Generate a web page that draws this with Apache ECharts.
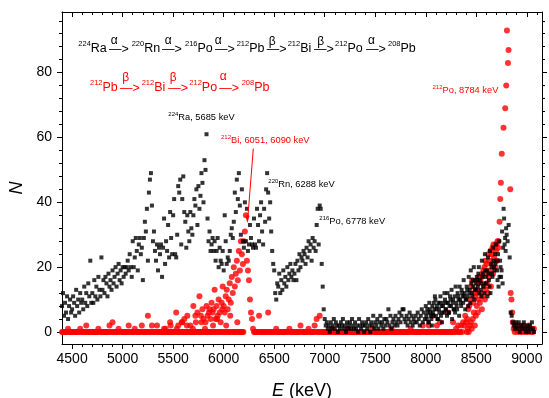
<!DOCTYPE html>
<html><head><meta charset="utf-8">
<script src="https://cdn.jsdelivr.net/npm/echarts@6/dist/echarts.min.js"></script>
<style>html,body{margin:0;padding:0;background:#fff}#c{width:549px;height:398px}</style>
</head><body><div id="c"></div>
<script>
// channel energies (keV)
const channelE = [
4400,4410,4420,4430,4440,4450,4460,4470,4480,4490,
4500,4510,4520,4530,4540,4550,4560,4570,4580,4590,
4600,4610,4620,4630,4640,4650,4660,4670,4680,4690,
4700,4710,4720,4730,4740,4750,4760,4770,4780,4790,
4800,4810,4820,4830,4840,4850,4860,4870,4880,4890,
4900,4910,4920,4930,4940,4950,4960,4970,4980,4990,
5000,5010,5020,5030,5040,5050,5060,5070,5080,5090,
5100,5110,5120,5130,5140,5150,5160,5170,5180,5190,
5200,5210,5220,5230,5240,5250,5260,5270,5280,5290,
5300,5310,5320,5330,5340,5350,5360,5370,5380,5390,
5400,5410,5420,5430,5440,5450,5460,5470,5480,5490,
5500,5510,5520,5530,5540,5550,5560,5570,5580,5590,
5600,5610,5620,5630,5640,5650,5660,5670,5680,5690,
5700,5710,5720,5730,5740,5750,5760,5770,5780,5790,
5800,5810,5820,5830,5840,5850,5860,5870,5880,5890,
5900,5910,5920,5930,5940,5950,5960,5970,5980,5990,
6000,6010,6020,6030,6040,6050,6060,6070,6080,6090,
6100,6110,6120,6130,6140,6150,6160,6170,6180,6190,
6200,6210,6220,6230,6240,6250,6260,6270,6280,6290,
6300,6310,6320,6330,6340,6350,6360,6370,6380,6390,
6400,6410,6420,6430,6440,6450,6460,6470,6480,6490,
6500,6510,6520,6530,6540,6550,6560,6570,6580,6590,
6600,6610,6620,6630,6640,6650,6660,6670,6680,6690,
6700,6710,6720,6730,6740,6750,6760,6770,6780,6790,
6800,6810,6820,6830,6840,6850,6860,6870,6880,6890,
6900,6910,6920,6930,6940,6950,6960,6970,6980,6990,
7000,7010,7020,7030,7040,7050,7060,7070,7080,7090,
7100,7110,7120,7130,7140,7150,7160,7170,7180,7190,
7200,7210,7220,7230,7240,7250,7260,7270,7280,7290,
7300,7310,7320,7330,7340,7350,7360,7370,7380,7390,
7400,7410,7420,7430,7440,7450,7460,7470,7480,7490,
7500,7510,7520,7530,7540,7550,7560,7570,7580,7590,
7600,7610,7620,7630,7640,7650,7660,7670,7680,7690,
7700,7710,7720,7730,7740,7750,7760,7770,7780,7790,
7800,7810,7820,7830,7840,7850,7860,7870,7880,7890,
7900,7910,7920,7930,7940,7950,7960,7970,7980,7990,
8000,8010,8020,8030,8040,8050,8060,8070,8080,8090,
8100,8110,8120,8130,8140,8150,8160,8170,8180,8190,
8200,8210,8220,8230,8240,8250,8260,8270,8280,8290,
8300,8310,8320,8330,8340,8350,8360,8370,8380,8390,
8400,8410,8420,8430,8440,8450,8460,8470,8480,8490,
8500,8510,8520,8530,8540,8550,8560,8570,8580,8590,
8600,8610,8620,8630,8640,8650,8660,8670,8680,8690,
8700,8710,8720,8730,8740,8750,8760,8770,8780,8790,
8800,8810,8820,8830,8840,8850,8860,8870,8880,8890,
8900,8910,8920,8930,8940,8950,8960,8970,8980,8990,
9000,9010,9020,9030,9040,9050,9060,9070
];
// 228Th source (black squares), counts per channel
const blackN = [
8,12,5,9,6,11,4,8,10,6,
7,11,9,5,13,8,10,6,12,9,
10,7,14,9,12,8,15,11,22,9,
12,9,16,11,14,10,17,13,11,23,
13,16,12,17,15,11,18,14,16,13,
19,15,17,20,14,18,21,16,19,15,
20,17,20,18,20,22,19,24,20,17,
28,20,23,29,25,19,27,29,24,26,
16,29,34,31,38,22,43,47,49,39,
28,31,25,22,27,19,26,24,27,17,
26,35,21,28,25,33,23,37,29,24,
36,41,24,23,30,45,43,47,27,41,
48,37,34,26,36,31,28,37,32,30,
36,41,39,44,33,45,38,42,49,46,
40,53,50,61,35,28,31,25,27,29,
25,28,22,25,29,20,26,22,21,25,
19,36,28,21,23,22,25,30,32,29,
34,43,37,47,41,49,39,30,44,28,
26,40,28,38,25,27,33,29,27,26,
35,27,26,38,33,28,36,40,31,27,
38,34,44,49,43,35,40,31,25,21,
19,12,10,15,14,18,12,16,13,19,
15,17,14,20,16,18,21,17,19,16,
18,21,16,22,19,24,20,23,22,25,
24,21,26,23,28,25,27,22,29,26,
28,25,33,38,27,39,38,21,14,7,
4,2,3,1,2,0,3,1,2,4,
1,3,2,0,2,1,3,2,4,1,
2,0,3,1,2,3,1,4,2,1,
3,1,2,0,4,2,1,3,2,0,
2,3,1,4,2,0,3,2,5,1,
3,2,4,1,3,5,2,3,1,4,
2,4,3,7,2,5,1,3,4,2,
5,3,2,4,6,3,5,7,7,4,
3,5,2,4,6,3,5,2,4,3,
5,3,6,4,2,5,7,3,6,4,
8,4,6,3,7,5,2,6,9,11,
5,8,4,7,9,5,3,8,6,10,
7,5,9,6,11,8,4,10,7,6,
9,7,11,5,10,8,12,9,11,7,
10,13,8,12,9,15,11,14,10,16,
13,16,18,12,15,11,17,14,12,19,
15,11,18,14,12,20,17,22,19,21,
22,16,14,17,20,19,15,38,27,25,
30,28,33,23,6,5,3,2,1,3,
2,1,3,0,2,1,2,3,1,0,
2,1,0,2,1,3,1,0
];
// additional black points between channels, 8005..8795 keV
const blackExtraE = [
8005,8015,8025,8035,8045,8055,8065,8075,8085,8095,
8105,8115,8125,8135,8145,8155,8165,8175,8185,8195,
8205,8215,8225,8235,8245,8255,8265,8275,8285,8295,
8305,8315,8325,8335,8345,8355,8365,8375,8385,8395,
8405,8415,8425,8435,8445,8455,8465,8475,8485,8495,
8505,8515,8525,8535,8545,8555,8565,8575,8585,8595,
8605,8615,8625,8635,8645,8655,8665,8675,8685,8695,
8705,8715,8725,8735,8745,8755,8765,8775,8785,8795
];
const blackExtraN = [
5,7,3,9,6,4,8,5,7,10,
7,4,9,6,11,8,6,9,12,7,
9,12,6,8,10,13,9,7,11,14,
8,12,10,14,9,13,11,16,12,10,
14,11,17,13,19,12,16,20,13,15,
17,14,20,16,13,22,18,15,24,17,
19,23,16,25,21,18,26,20,24,27,
19,24,28,22,17,31,26,35,29,32
];
// 212Pb source (red circles): channels 4400..8710
const redBaseN = [
0,0,0,0,0,0,1,0,0,0,
0,0,0,0,0,0,0,0,1,0,
0,0,0,0,2,0,0,0,0,0,
0,0,0,0,0,0,1,0,0,0,
0,0,0,0,0,0,0,2,0,0,
3,0,0,0,0,0,1,0,0,0,
0,0,0,0,0,0,2,0,0,0,
0,0,1,0,0,0,0,0,0,2,
0,0,0,0,0,5,0,0,0,2,
0,0,0,0,2,0,0,0,0,0,
0,1,0,0,0,0,0,3,0,0,
0,0,0,6,0,2,0,0,0,3,
0,4,0,0,5,0,0,2,0,0,
8,0,5,0,6,0,11,0,3,7,
4,0,3,8,5,0,7,4,9,6,
7,13,4,8,5,10,6,3,9,14,
8,6,11,13,7,10,15,9,17,12,
20,14,18,22,16,25,19,28,24,21,
28,31,36,22,19,16,10,6,4,1,
0,0,0,0,0,5,0,0,0,0,
0,0,0,0,6,0,0,0,0,0,
0,0,1,0,0,0,0,0,0,0,
0,0,0,0,0,1,0,0,0,0,
0,0,0,0,0,0,2,0,0,0,
0,0,0,0,1,0,0,0,0,0,
2,0,4,0,0,5,0,0,0,0,
0,0,0,0,0,0,0,1,0,0,
0,0,0,0,0,0,0,0,0,0,
0,0,0,1,0,0,0,0,0,0,
0,0,0,0,0,0,0,0,0,0,
0,0,0,0,0,0,0,1,0,0,
0,0,0,0,0,0,0,0,0,0,
0,0,0,0,0,0,1,0,0,0,
0,0,0,0,0,0,0,0,0,0,
0,0,0,0,0,1,0,0,0,0,
0,0,0,0,0,0,0,2,0,0,
0,0,0,2,0,0,0,5,0,0,
0,2,0,0,3,0,0,0,0,0,
0,0,6,0,0,0,0,3,0,0,
1,0,2,0,0,2,0,3,2,5,
3,4,7,8,10,14,16,9,12,11,
13,12,15,17,16,17,18,19,20,22,
21,18,24,22,25,24,26,27,26,27,
27,28
];
// additional red points between channels
const redExtraE = [
5405,5415,5425,5435,5445,5455,5465,5475,5485,5495,
5505,5515,5525,5535,5545,5555,5565,5575,5585,5595,
5605,5615,5625,5635,5645,5655,5665,5675,5685,5695,
5705,5715,5725,5735,5745,5755,5765,5775,5785,5795,
5805,5815,5825,5835,5845,5855,5865,5875,5885,5895,
5905,5915,5925,5935,5945,5955,5965,5975,5985,5995,
6005,6015,6025,6035,6045,6055,6065,6075,6085,6095,
6105,6115,6125,6135,6145,6155,6165,6175,6185,6195,
8405,8415,8425,8435,8445,8455,8465,8475,8485,8495,
8505,8515,8525,8535,8545,8555,8565,8575,8585,8595,
8605,8615,8625,8635,8645,8655,8665,8675,8685,8695,
8705,8715
];
const redExtraN = [
0,0,1,0,0,0,0,2,0,0,
0,0,0,1,0,0,0,0,3,0,
0,0,0,2,0,0,0,0,0,1,
0,0,3,0,0,0,0,5,0,0,
0,1,0,0,0,6,0,0,0,2,
0,0,0,4,0,0,0,0,7,0,
0,0,2,0,0,0,5,0,0,0,
0,0,0,3,0,0,0,0,0,0,
0,1,0,2,3,1,4,6,2,5,
8,6,10,9,12,7,11,14,10,13,
15,12,17,19,14,21,18,23,20,25,
22,26
];
// 212Po peak region (red)
const redPeakE = [8720,8730,8737,8743,8752,8769,8786,8796,8803,8813,8819,8836,8840,8848,8855,8862];
const redPeakN = [28,34,41,46,55,63,69,76,93,83,87,44,12,10,6,3];
// red tail, channels 8870..9070
const redTailN = [1,0,2,1,0,1,2,0,1,0,2,1,0,1,0,2,1,0,1,0,1];

// axis ticks
const xLabels = [4500,5000,5500,6000,6500,7000,7500,8000,8500,9000];
const xMinor = [4600,4700,4800,4900,5100,5200,5300,5400,5600,5700,5800,5900,6100,6200,6300,6400,6600,6700,6800,6900,7100,7200,7300,7400,7600,7700,7800,7900,8100,8200,8300,8400,8600,8700,8800,8900,9100];
const yLabels = [0,20,40,60,80];
const yMinor = [4,8,12,16,24,28,32,36,44,48,52,56,64,68,72,76,84,88,92,96];

const F = '"Liberation Sans", Arial, Helvetica, sans-serif';
const RED = '#ff0000';

const blackData = channelE.map((e, i) => [e, blackN[i]])
  .concat(blackExtraE.map((e, i) => [e, blackExtraN[i]]));
const tailStart = channelE.length - redTailN.length;
const redData = redBaseN.map((n, i) => [channelE[i], n])
  .concat(redExtraE.map((e, i) => [e, redExtraN[i]]))
  .concat(redPeakE.map((e, i) => [e, redPeakN[i]]))
  .concat(redTailN.map((n, i) => [channelE[tailStart + i], n]));

function nuc(x, y, sup, name, color, size, supSize, lh) {
  return {
    type: 'text', x: x, y: y, z: 100,
    style: {
      text: '{s|' + sup + '}{m|' + name + '}',
      align: 'left', verticalAlign: 'middle',
      fill: color, fontFamily: F, fontSize: size,
      rich: {
        s: {fontSize: supSize, fontFamily: F, fill: color, verticalAlign: 'top', height: supSize},
        m: {fontSize: size, fontFamily: F, fill: color, lineHeight: lh}
      }
    }
  };
}
function arrow(x, y, greek, gx, gy, color) {
  return [
    {type: 'text', x: x, y: y, z: 100, style: {text: '\u2014>', align: 'left', verticalAlign: 'middle', fill: color, fontFamily: F, fontSize: 12.5}},
    {type: 'text', x: gx, y: gy, z: 100, style: {text: greek, align: 'center', verticalAlign: 'middle', fill: color, fontFamily: F, fontSize: 12}}
  ];
}
const A = '\u03b1', B = '\u03b2';
let G = [];
// chain 1 (black)
const y1 = 48.5, ya1 = 49.5, yg1 = 40.5;
G.push(nuc(78.3, y1, '224', 'Ra', '#000', 12.5, 7.5, 16));
G = G.concat(arrow(109, ya1, A, 114.2, yg1, '#000'));
G.push(nuc(131.7, y1, '220', 'Rn', '#000', 12.5, 7.5, 16));
G = G.concat(arrow(162, ya1, A, 168.3, yg1, '#000'));
G.push(nuc(185, y1, '216', 'Po', '#000', 12.5, 7.5, 16));
G = G.concat(arrow(215, ya1, A, 218.3, yg1, '#000'));
G.push(nuc(236.7, y1, '212', 'Pb', '#000', 12.5, 7.5, 16));
G = G.concat(arrow(266.7, ya1, B, 272.2, yg1 + 1, '#000'));
G.push(nuc(287.7, y1, '212', 'Bi', '#000', 12.5, 7.5, 16));
G = G.concat(arrow(314, ya1, B, 320.7, yg1 + 1, '#000'));
G.push(nuc(335, y1, '212', 'Po', '#000', 12.5, 7.5, 16));
G = G.concat(arrow(366, ya1, A, 371.5, yg1, '#000'));
G.push(nuc(388, y1, '208', 'Pb', '#000', 12.5, 7.5, 16));
// chain 2 (red)
const y2 = 87.3, ya2 = 88.3, yg2 = 78;
G.push(nuc(90, y2, '212', 'Pb', RED, 12.5, 7.5, 16));
G = G.concat(arrow(120, ya2, B, 125.7, yg2, RED));
G.push(nuc(141.7, y2, '212', 'Bi', RED, 12.5, 7.5, 16));
G = G.concat(arrow(168.3, ya2, B, 173.3, yg2, RED));
G.push(nuc(189.3, y2, '212', 'Po', RED, 12.5, 7.5, 16));
G = G.concat(arrow(219.3, ya2, A, 223.3, yg2 - 1, RED));
G.push(nuc(241.7, y2, '208', 'Pb', RED, 12.5, 7.5, 16));
// peak labels
G.push(nuc(168.3, 117.3, '224', 'Ra, 5685 keV', '#000', 9.3, 6, 12));
G.push(nuc(221, 140.7, '212', 'Bi, 6051, 6090 keV', RED, 9.3, 6, 12));
G.push(nuc(268.3, 184, '220', 'Rn, 6288 keV', '#000', 9.3, 6, 12));
G.push(nuc(319.3, 221.7, '216', 'Po, 6778 keV', '#000', 9.3, 6, 12));
G.push(nuc(432.5, 90, '212', 'Po, 8784 keV', RED, 9.3, 6, 12));
// red pointer arrow
G.push({type: 'line', z: 100, shape: {x1: 253.3, y1: 148.5, x2: 247.9, y2: 217}, style: {stroke: RED, lineWidth: 1}});
G.push({type: 'polygon', z: 100, shape: {points: [[247.3, 223], [245.3, 215.5], [249.6, 215.8]]}, style: {fill: RED}});

const tickLine = {color: '#000', width: 1};
const common = {type: 'value', splitLine: {show: false}};
const xRange = {min: 4400, max: 9150};
const yRange = {min: -3.7, max: 98.7};
const plain = v => String(v);
const gridBox = {left: 62, right: 7, top: 12, bottom: 54, containLabel: false, outerBoundsMode: 'none'};

const option = {
  animation: false,
  backgroundColor: '#fff',
  grid: [Object.assign({}, gridBox), Object.assign({}, gridBox)],
  xAxis: [
    Object.assign({}, common, xRange, {gridIndex: 0, position: 'bottom',
      axisLine: {show: true, onZero: false, lineStyle: tickLine},
      axisTick: {show: true, inside: false, length: 5, customValues: xLabels, lineStyle: tickLine},
      axisLabel: {show: true, customValues: xLabels, formatter: plain, color: '#000', fontSize: 14, fontFamily: F, margin: 8},
      name: '{i|E} (keV)', nameLocation: 'middle', nameGap: 38,
      nameTextStyle: {fontSize: 18, color: '#000', fontFamily: F,
        rich: {i: {fontStyle: 'italic', fontSize: 18, color: '#000', fontFamily: F}}}
    }),
    Object.assign({}, common, xRange, {gridIndex: 0, position: 'top',
      axisLine: {show: true, onZero: false, lineStyle: tickLine},
      axisTick: {show: true, inside: true, length: 5, customValues: xLabels, lineStyle: tickLine},
      axisLabel: {show: false}
    }),
    Object.assign({}, common, xRange, {gridIndex: 1, position: 'bottom',
      axisLine: {show: false, onZero: false},
      axisTick: {show: true, inside: false, length: 3, customValues: xMinor, lineStyle: tickLine},
      axisLabel: {show: false}
    }),
    Object.assign({}, common, xRange, {gridIndex: 1, position: 'top',
      axisLine: {show: false, onZero: false},
      axisTick: {show: true, inside: true, length: 3, customValues: xMinor, lineStyle: tickLine},
      axisLabel: {show: false}
    })
  ],
  yAxis: [
    Object.assign({}, common, yRange, {gridIndex: 0, position: 'left',
      axisLine: {show: true, onZero: false, lineStyle: tickLine},
      axisTick: {show: true, inside: false, length: 5, customValues: yLabels, lineStyle: tickLine},
      axisLabel: {show: true, customValues: yLabels, formatter: plain, color: '#000', fontSize: 14, fontFamily: F, margin: 10},
      name: 'N', nameLocation: 'middle', nameGap: 26,
      nameTextStyle: {fontSize: 18, fontStyle: 'italic', color: '#000', fontFamily: F, padding: [0, 20, 0, 0]}
    }),
    Object.assign({}, common, yRange, {gridIndex: 0, position: 'right',
      axisLine: {show: true, onZero: false, lineStyle: tickLine},
      axisTick: {show: true, inside: false, length: 5, customValues: yLabels, lineStyle: tickLine},
      axisLabel: {show: false}
    }),
    Object.assign({}, common, yRange, {gridIndex: 1, position: 'left',
      axisLine: {show: false, onZero: false},
      axisTick: {show: true, inside: false, length: 3, customValues: yMinor, lineStyle: tickLine},
      axisLabel: {show: false}
    }),
    Object.assign({}, common, yRange, {gridIndex: 1, position: 'right',
      axisLine: {show: false, onZero: false},
      axisTick: {show: true, inside: false, length: 3, customValues: yMinor, lineStyle: tickLine},
      axisLabel: {show: false}
    })
  ],
  series: [
    {type: 'scatter', name: '212Pb', xAxisIndex: 0, yAxisIndex: 0, data: redData,
     symbol: 'circle', symbolSize: 6, itemStyle: {color: RED}, z: 2, silent: true},
    {type: 'scatter', name: '228Th', xAxisIndex: 0, yAxisIndex: 0, data: blackData,
     symbol: 'rect', symbolSize: 4, itemStyle: {color: '#000'}, z: 3, silent: true}
  ],
  graphic: G
};
const chart = echarts.init(document.getElementById('c'), null, {renderer: 'canvas'});
chart.setOption(option);
</script>
</body></html>
